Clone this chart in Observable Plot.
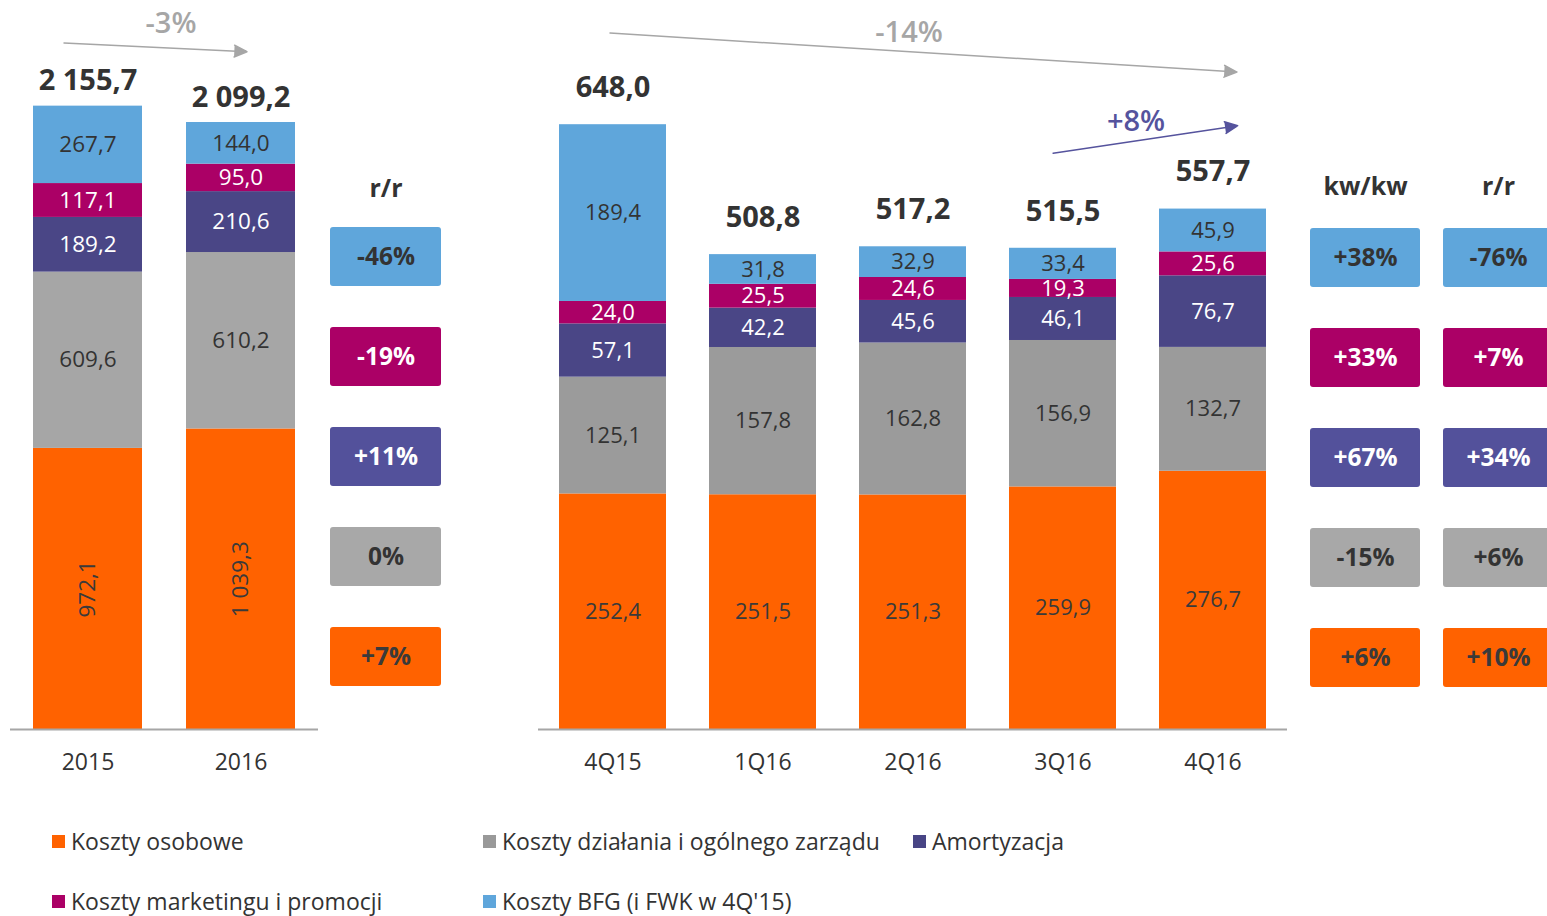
<!DOCTYPE html>
<html>
<head>
<meta charset="utf-8">
<script src="https://cdn.jsdelivr.net/npm/d3@7"></script>
<script src="https://cdn.jsdelivr.net/npm/@observablehq/plot@0.6"></script>
<style>
  html, body { margin: 0; padding: 0; background: #fff; overflow: hidden; }
  #root { position: relative; width: 1547px; height: 916px; overflow: hidden; background: #fff;
          font-family: "Open Sans", "Noto Sans", sans-serif; color: #333; }
  .panel { position: absolute; top: 0; }
  .panel svg { max-width: none !important; }
  #legend { position: absolute; left: 52px; top: 826px; display: grid;
            grid-template-columns: 431px 430px auto; grid-auto-rows: 30px; row-gap: 30px;
            font-size: 23px; color: #333; }
  .item { display: flex; align-items: center; white-space: nowrap; }
  .sw { width: 13px; height: 13px; margin-right: 6px; flex: none; }
</style>
</head>
<body>
<div id="root">
  <div id="pA" class="panel" style="left:0px;width:320px"></div>
  <div id="pR1" class="panel" style="left:320px;width:121px"></div>
  <div id="pB" class="panel" style="left:520px;width:780px"></div>
  <div id="pR2" class="panel" style="left:1300px;width:254px"></div>
  <div id="legend"></div>
</div>
<script>
// ---------------- DATA ----------------
const components = [
  "Koszty osobowe",
  "Koszty działania i ogólnego zarządu",
  "Amortyzacja",
  "Koszty marketingu i promocji",
  "Koszty BFG (i FWK w 4Q'15)"
];

const years = ["2015", "2016"];
const yearOsobowe    = [972.1, 1039.3];
const yearDzialania  = [609.6, 610.2];
const yearAmort      = [189.2, 210.6];
const yearMarketing  = [117.1, 95.0];
const yearBFG        = [267.7, 144.0];
const yearTotals     = [2155.7, 2099.2];
const yearChangeRR   = ["+7%", "0%", "+11%", "-19%", "-46%"];   // per component

const quarters = ["4Q15", "1Q16", "2Q16", "3Q16", "4Q16"];
const qOsobowe   = [252.4, 251.5, 251.3, 259.9, 276.7];
const qDzialania = [125.1, 157.8, 162.8, 156.9, 132.7];
const qAmort     = [57.1, 42.2, 45.6, 46.1, 76.7];
const qMarketing = [24.0, 25.5, 24.6, 19.3, 25.6];
const qBFG       = [189.4, 31.8, 32.9, 33.4, 45.9];
const qTotals    = [648.0, 508.8, 517.2, 515.5, 557.7];
const qChangeKwKw = ["+6%", "-15%", "+67%", "+33%", "+38%"];
const qChangeRR   = ["+10%", "+6%", "+34%", "+7%", "-76%"];

const annualTrend = [{from: "2015", to: "2016", label: "-3%"}];
const quarterTrendLong = [{from: "4Q15", to: "4Q16", label: "-14%"}];
const quarterTrendShort = [{from: "3Q16", to: "4Q16", label: "+8%"}];

// ---------------- STYLES ----------------
const FONT = "Open Sans";
const DARK = "#333333";
const barFillAnnual  = ["#ff6200", "#a6a6a6", "#4a4686", "#ab0066", "#5fa6db"];
const barFillQuarter = ["#ff6200", "#9b9b9b", "#4a4686", "#ab0066", "#5fa6db"];
const labelFill      = ["#3a3a3a", DARK, "#ffffff", "#ffffff", DARK];
const boxFill        = ["#ff6200", "#a8a8a8", "#53519b", "#ab0066", "#5fa6db"];
const legendFill     = ["#ff6200", "#999999", "#484585", "#ab0066", "#5fa6db"];

const fmt = d3.formatLocale({decimal: ",", thousands: " ", grouping: [3], currency: ["", ""]}).format(",.1f");
const idx = c => components.indexOf(c);

function toRows(periods, series) {
  return components.flatMap((c, j) => periods.map((p, i) => ({period: p, component: c, value: series[j][i]})));
}
const yearRows = toRows(years, [yearOsobowe, yearDzialania, yearAmort, yearMarketing, yearBFG]);
const quarterRows = toRows(quarters, [qOsobowe, qDzialania, qAmort, qMarketing, qBFG]);
const yearTotalRows = years.map((p, i) => ({period: p, total: yearTotals[i]}));
const quarterTotalRows = quarters.map((p, i) => ({period: p, total: qTotals[i]}));

const baseStyle = {background: "transparent", fontFamily: FONT, overflow: "visible", maxWidth: "none"};

function trendMarks(data, {y1, y2, color, insetStart, insetEnd, dx, dy}) {
  return [
    Plot.arrow(data, {x1: "from", x2: "to", y1, y2, stroke: color, fill: color, strokeWidth: 1.5,
      headLength: 14, headAngle: 50, insetStart, insetEnd}),
    Plot.text(data, {x: "from", y: y1, text: "label", dx, dy, fill: color, fontSize: 29,
      fontWeight: 600, fontFamily: FONT})
  ];
}

// ---------------- ANNUAL PANEL ----------------
const plotA = Plot.plot({
  width: 320, height: 790,
  marginLeft: 10, marginRight: 2, marginTop: 35, marginBottom: 61,
  style: baseStyle,
  x: {type: "band", domain: years, paddingInner: 0.2857, paddingOuter: 0.1429, label: null},
  y: {domain: [0, 2400], axis: null},
  color: {type: "identity"},
  marks: [
    Plot.barY(yearRows, {x: "period", y: "value", fill: d => barFillAnnual[idx(d.component)]}),
    Plot.ruleY([0], {stroke: "#a6a6a6", strokeWidth: 2}),
    Plot.text(yearRows, Plot.stackY({x: "period", y: "value",
      text: d => idx(d.component) === 0 ? null : fmt(d.value),
      fill: d => labelFill[idx(d.component)], fontSize: 22.5, fontFamily: FONT})),
    Plot.text(yearRows, Plot.stackY({x: "period", y: "value",
      text: d => idx(d.component) === 0 ? fmt(d.value) : null, rotate: -90,
      fill: d => labelFill[idx(d.component)], fontSize: 22.5, fontFamily: FONT})),
    Plot.text(yearTotalRows, {x: "period", y: "total", text: d => fmt(d.total), dy: -25,
      fill: DARK, fontSize: 29, fontWeight: 700, fontFamily: FONT}),
    ...trendMarks(annualTrend, {y1: 2370, y2: 2345, color: "#a6a6a6", insetStart: -24, insetEnd: -6, dx: 83, dy: -20}),
    Plot.axisX({tickSize: 0, tickPadding: 24, fontSize: 23, color: DARK, fontFamily: FONT, label: null})
  ]
});
document.getElementById("pA").appendChild(plotA);

// ---------------- QUARTERLY PANEL ----------------
const plotB = Plot.plot({
  width: 780, height: 790,
  marginLeft: 18, marginRight: 13, marginTop: 29, marginBottom: 61,
  style: baseStyle,
  x: {type: "band", domain: quarters, paddingInner: 0.2867, paddingOuter: 0.14, label: null},
  y: {domain: [0, 750], axis: null},
  color: {type: "identity"},
  marks: [
    Plot.barY(quarterRows, {x: "period", y: "value", fill: d => barFillQuarter[idx(d.component)]}),
    Plot.ruleY([0], {stroke: "#a6a6a6", strokeWidth: 2}),
    Plot.text(quarterRows, Plot.stackY({x: "period", y: "value", text: d => fmt(d.value),
      fill: d => labelFill[idx(d.component)], fontSize: 22, fontFamily: FONT})),
    Plot.text(quarterTotalRows, {x: "period", y: "total", text: d => fmt(d.total), dy: -37,
      fill: DARK, fontSize: 29, fontWeight: 700, fontFamily: FONT}),
    ...trendMarks(quarterTrendLong, {y1: 746, y2: 706, color: "#a6a6a6", insetStart: -3, insetEnd: -24, dx: 296, dy: -1}),
    ...trendMarks(quarterTrendShort, {y1: 619, y2: 643, color: "#55539d", insetStart: -10, insetEnd: -25, dx: 73, dy: -30}),
    Plot.axisX({tickSize: 0, tickPadding: 24, fontSize: 23, color: DARK, fontFamily: FONT, label: null})
  ]
});
document.getElementById("pB").appendChild(plotB);

// ---------------- CHANGE BOXES ----------------
function boxPanel(columns, changes, {marginLeft, marginTop, width, paddingInner, headerPadding}) {
  const rows = columns.flatMap((col, k) => components.map((c, j) => ({column: col, component: c, change: changes[k][j]})));
  return Plot.plot({
    width, height: 790,
    marginLeft, marginRight: 0, marginTop, marginBottom: 790 - marginTop - 459,
    style: baseStyle,
    x: {type: "band", domain: columns, paddingInner, paddingOuter: 0, label: null},
    y: {type: "band", domain: components.slice().reverse(), paddingInner: 0.41, paddingOuter: 0, axis: null},
    color: {type: "identity"},
    marks: [
      Plot.cell(rows, {x: "column", y: "component", fill: d => boxFill[idx(d.component)], rx: 3}),
      Plot.text(rows, {x: "column", y: "component", text: "change",
        fill: d => labelFill[idx(d.component)], fontSize: 24.5, fontWeight: 700, fontFamily: FONT}),
      Plot.axisX({anchor: "top", tickSize: 0, tickPadding: headerPadding, fontSize: 25, fontWeight: 700,
        color: DARK, fontFamily: FONT, label: null})
    ]
  });
}
document.getElementById("pR1").appendChild(boxPanel(["r/r"], [yearChangeRR],
  {marginLeft: 10, marginTop: 227, width: 121, paddingInner: 0, headerPadding: 31}));
document.getElementById("pR2").appendChild(boxPanel(["kw/kw", "r/r"], [qChangeKwKw, qChangeRR],
  {marginLeft: 9, marginTop: 228, width: 254, paddingInner: 0.1716, headerPadding: 34}));

// ---------------- LEGEND ----------------
const legend = document.getElementById("legend");
components.forEach((c, j) => {
  const item = document.createElement("div");
  item.className = "item";
  const sw = document.createElement("span");
  sw.className = "sw";
  sw.style.background = legendFill[j];
  item.appendChild(sw);
  item.appendChild(document.createTextNode(c));
  legend.appendChild(item);
});
</script>
</body>
</html>
